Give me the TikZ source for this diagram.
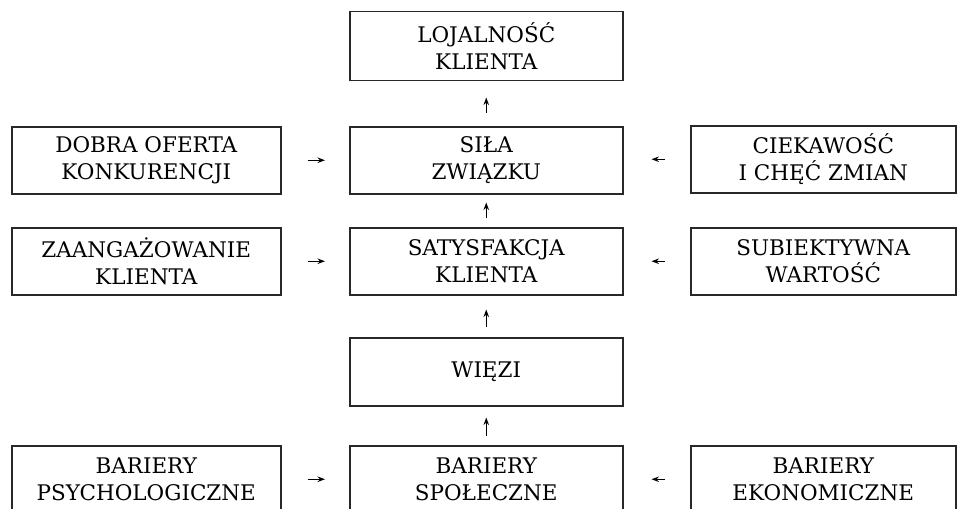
\documentclass[tikz,border=0pt]{standalone}
\usepackage{fontspec}
\setmainfont{DejaVu Serif}
\usetikzlibrary{arrows.meta}
\definecolor{boxline}{RGB}{40,40,40}
\tikzset{
  box/.style={draw=boxline, line width=1.5pt, anchor=north west, inner sep=0pt,
    minimum height=67pt, align=center, font=\fontsize{21.5}{27.5}\selectfont, text=black},
  arr/.style={draw=black, line width=1.4pt, -{Stealth[length=7.5pt,width=5.5pt]}}
}
\begin{document}
\begin{tikzpicture}[x=1pt,y=-1pt]
\path[use as bounding box, clip] (0,0) rectangle (957,508);
\fill[white] (0,0) rectangle (957,508);
% top
\node[box, minimum width=273pt, minimum height=69pt] (loj) at (349,11) {LOJALNOŚĆ\\KLIENTA};
% row 1
\node[box, minimum width=269pt] (dob) at (11,126) {DOBRA OFERTA\\KONKURENCJI};
\node[box, minimum width=273pt] (sil) at (349,126) {SIŁA\\ZWIĄZKU};
\node[box, minimum width=265pt] (cie) at (690,125) {CIEKAWOŚĆ\\I CHĘĆ ZMIAN};
% row 2
\node[box, minimum width=269pt] (zaa) at (11,227) {ZAANGAŻOWANIE\\KLIENTA};
\node[box, minimum width=273pt] (sat) at (349,227) {SATYSFAKCJA\\KLIENTA};
\node[box, minimum width=265pt] (sub) at (690,227) {SUBIEKTYWNA\\WARTOŚĆ};
% wiezi
\node[box, minimum width=273pt, minimum height=68pt] (wie) at (349,337) {WIĘZI};
% bottom row
\node[box, minimum width=269pt] (psy) at (11,445) {BARIERY\\PSYCHOLOGICZNE};
\node[box, minimum width=273pt] (spo) at (349,445) {BARIERY\\SPOŁECZNE};
\node[box, minimum width=265pt] (eko) at (690,445) {BARIERY\\EKONOMICZNE};
% vertical arrows
\draw[arr, shorten <=13pt, shorten >=16pt] (sil.north) -- (loj.south);
\draw[arr, shorten <=9pt, shorten >=8pt] (sat.north) -- (sil.south);
\draw[arr, shorten <=10pt, shorten >=14pt] (wie.north) -- (sat.south);
\draw[arr, shorten <=9pt, shorten >=11pt] (spo.north) -- (wie.south);
% horizontal arrows
\draw[arr, shorten <=26pt, shorten >=24pt] (dob.east) -- (dob.east -| sil.west);
\draw[arr, shorten <=25pt, shorten >=28pt] (cie.west) -- (cie.west -| sil.east);
\draw[arr, shorten <=26pt, shorten >=24pt] (zaa.east) -- (sat.west);
\draw[arr, shorten <=25pt, shorten >=28pt] (sub.west) -- (sat.east);
\draw[arr, shorten <=26pt, shorten >=24pt] (psy.east) -- (spo.west);
\draw[arr, shorten <=25pt, shorten >=28pt] (eko.west) -- (spo.east);
\end{tikzpicture}
\end{document}
